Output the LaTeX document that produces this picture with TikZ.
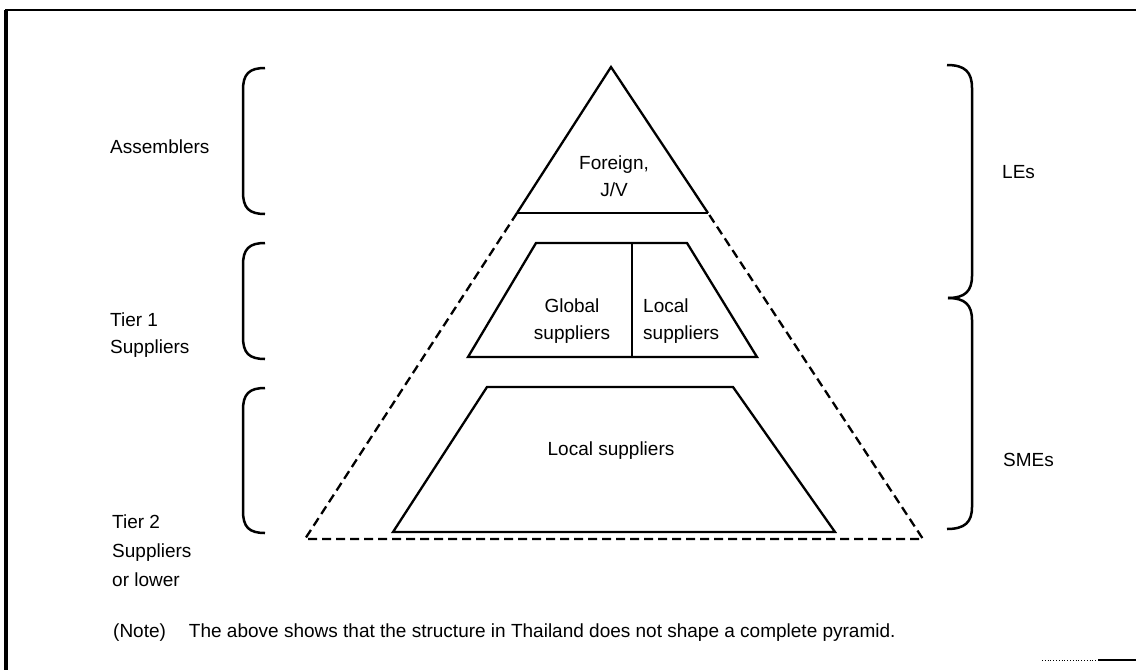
\documentclass[tikz,border=0pt]{standalone}
\usepackage{fontspec}
\setmainfont{Liberation Sans}
\begin{document}
\begin{tikzpicture}[x=1pt,y=-1pt,
  lbl/.style={inner sep=0pt,font=\fontsize{19}{27}\selectfont,text=black},
  solidline/.style={line width=2.3pt,line join=miter},
  dashline/.style={line width=2.3pt,dash pattern=on 9pt off 5pt},
  bracket/.style={line width=2.5pt},
  frame/.style={line width=1.3pt}]
\useasboundingbox (0,0) rectangle (1136,670);
\fill[white] (0,0) rectangle (1136,670);
% frame
\draw[line width=3.5pt] (6,10) -- (6,670);
\draw[frame] (5,10) -- (1136,10);
\draw[line width=0.8pt,dotted] (1042,660) -- (1098,660);
\draw[line width=1.4pt] (1098,660) -- (1136,660);
% pyramid coordinates
\coordinate (apex) at (611,67);
\coordinate (tl) at (517,213);
\coordinate (tr) at (708,213);
\coordinate (bl) at (305,539);
\coordinate (br) at (923,539);
\draw[solidline] (tl) -- (apex) -- (tr);
\draw[line width=1.8pt] (tl) -- (tr);
\draw[dashline] (tl) -- (bl) -- (br) -- (tr);
% tier 1 trapezoid
\coordinate (a1) at (536,243);
\coordinate (a2) at (687,243);
\coordinate (a3) at (757,357);
\coordinate (a4) at (468,357);
\coordinate (d1) at (632,243);
\coordinate (d2) at (632,357);
\draw[solidline] (a1) -- (a2) -- (a3) -- (a4) -- cycle;
\draw[solidline] (d1) -- (d2);
% tier 2 trapezoid
\coordinate (b1) at (487,387);
\coordinate (b2) at (733,387);
\coordinate (b3) at (835,532);
\coordinate (b4) at (393,532);
\draw[solidline] (b1) -- (b2) -- (b3) -- (b4) -- cycle;
% left brackets
\draw[bracket] (265,68) .. controls (249,68) and (243,74) .. (243,90) -- (243,192) .. controls (243,208) and (249,214) .. (265,214);
\draw[bracket] (265,243) .. controls (249,243) and (243,249) .. (243,265) -- (243,337) .. controls (243,353) and (249,359) .. (265,359);
\draw[bracket] (265,388) .. controls (249,388) and (243,394) .. (243,410) -- (243,511) .. controls (243,527) and (249,533) .. (265,533);
% right brackets
\draw[bracket] (947,65) .. controls (965,65) and (972,72) .. (972,88) -- (972,276) .. controls (972,291) and (965,298) .. (948,298);
\draw[bracket] (948,298) .. controls (965,298) and (972,305) .. (972,320) -- (972,507) .. controls (972,522) and (965,529) .. (947,529);
% labels
\node[lbl,anchor=west] (asm) at (110,147) {Assemblers};
\node[lbl,anchor=west,align=left] (t1) at (110,335) {Tier 1\\Suppliers};
\node[lbl,anchor=west,align=left,font=\fontsize{19}{29}\selectfont] (t2) at (112,551) {Tier 2\\Suppliers\\or lower};
\node[lbl,anchor=west] (les) at (1002,172) {LEs};
\node[lbl,anchor=west] (smes) at (1003,460) {SMEs};
\node[lbl,align=center] (fjv) at (614,176) {Foreign,\\J/V};
\node[lbl,align=center] (gs) at (572,321) {Global\\suppliers};
\node[lbl,anchor=west,align=left] (ls1) at (643,321) {Local\\suppliers};
\node[lbl] (ls2) at (611,451) {Local suppliers};
\node[lbl,anchor=west] (note) at (113,633) {(Note)\hspace{23pt}The above shows that the structure in Thailand does not shape a complete pyramid.};
\end{tikzpicture}
\end{document}
